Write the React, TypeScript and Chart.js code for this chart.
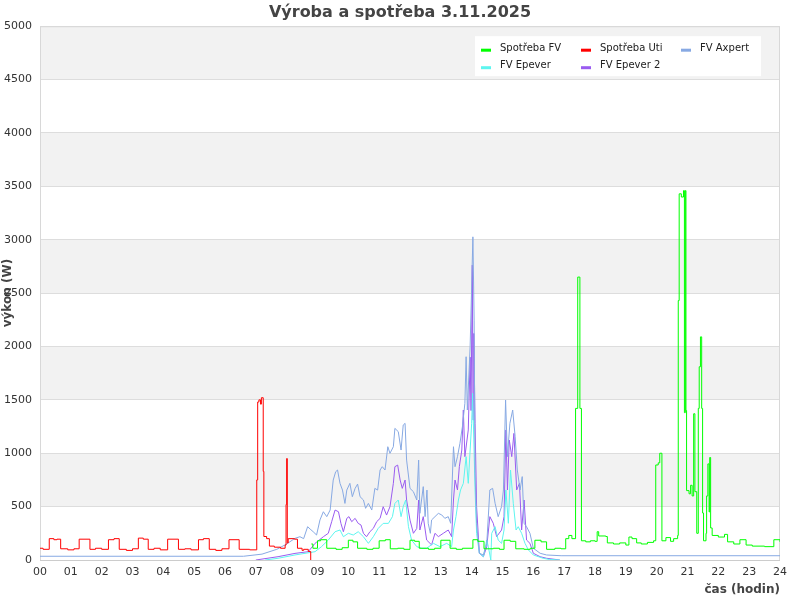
import React, { useEffect, useRef } from "react";
import { Chart, registerables } from "chart.js";

Chart.register(...registerables);

const TITLE = "Výroba a spotřeba 3.11.2025";
const Y_TITLE = "výkon (W)";
const X_TITLE = "čas (hodin)";
const HOUR_TICKS = [0, 1, 2, 3, 4, 5, 6, 7, 8, 9, 10, 11, 12, 13, 14, 15, 16, 17, 18, 19, 20, 21, 22, 23, 24];
const SERIES_NAMES = ["Spotřeba FV", "Spotřeba Uti", "FV Axpert", "FV Epever", "FV Epever 2"];
const SERIES_COLORS = ["#00ff00", "#ff0000", "#87a9e3", "#5ef5ef", "#9a5cf0"];

// Spotřeba Uti (stepped)
const utiT = [0, 0.1, 0.3, 0.45, 0.55, 0.67, 0.9, 1.1, 1.27, 1.62, 1.8, 2.0, 2.22, 2.4, 2.57, 2.8, 3.0, 3.19, 3.35, 3.51, 3.7, 3.9, 4.14, 4.49, 4.7, 4.9, 5.14, 5.3, 5.49, 5.7, 5.9, 6.13, 6.46, 6.8, 7.03, 7.06, 7.1, 7.15, 7.18, 7.24, 7.26, 7.35, 7.44, 7.6, 7.8, 7.95, 7.98, 8.0, 8.02, 8.05, 8.25, 8.35, 8.5, 8.55, 8.7, 8.78];
const utiV = [110, 100, 200, 190, 195, 105, 95, 105, 195, 100, 110, 100, 190, 200, 100, 90, 105, 205, 195, 100, 110, 95, 195, 100, 105, 95, 190, 200, 100, 90, 105, 190, 100, 95, 750, 1480, 1500, 1460, 1520, 830, 220, 200, 130, 120, 110, 140, 520, 950, 160, 200, 195, 110, 90, 100, 80, 0];

// Spotřeba FV (stepped)
const fvT = [8.8, 8.85, 9.0, 9.1, 9.3, 9.6, 9.8, 10.0, 10.15, 10.3, 10.6, 10.8, 11.0, 11.2, 11.36, 11.6, 11.8, 12.0, 12.15, 12.3, 12.6, 12.8, 13.0, 13.3, 13.5, 13.7, 14.04, 14.2, 14.4, 14.7, 14.9, 15.05, 15.25, 15.43, 15.7, 15.9, 16.05, 16.25, 16.43, 16.7, 16.9, 17.05, 17.15, 17.25, 17.37, 17.44, 17.51, 17.56, 17.7, 17.85, 18.0, 18.07, 18.12, 18.35, 18.4, 18.6, 18.8, 19.0, 19.1, 19.2, 19.35, 19.5, 19.7, 19.9, 19.97, 20.05, 20.1, 20.17, 20.3, 20.45, 20.55, 20.68, 20.7, 20.73, 20.8, 20.87, 20.9, 20.93, 20.95, 20.97, 21.05, 21.1, 21.15, 21.2, 21.24, 21.3, 21.35, 21.38, 21.42, 21.46, 21.49, 21.52, 21.6, 21.62, 21.66, 21.7, 21.72, 21.75, 21.8, 22.0, 22.2, 22.3, 22.5, 22.7, 22.9, 23.1, 23.5, 23.8, 24];
const fvV = [150, 110, 180, 190, 110, 100, 115, 185, 170, 110, 100, 110, 180, 190, 105, 110, 100, 185, 175, 110, 100, 110, 185, 110, 100, 110, 190, 175, 105, 110, 100, 185, 175, 105, 100, 110, 185, 170, 100, 110, 105, 200, 230, 200, 1420, 2650, 1420, 180, 170, 180, 175, 265, 225, 220, 160, 150, 160, 140, 215, 200, 160, 150, 165, 180, 890, 910, 1000, 180, 210, 175, 200, 230, 2430, 3430, 3400, 3460, 1380, 3460, 1400, 650, 620, 700, 600, 1370, 640, 250, 1420, 1810, 2090, 1420, 440, 180, 250, 600, 900, 450, 960, 300, 230, 215, 240, 170, 150, 190, 140, 130, 125, 190, 170];

// FV Axpert
const axT = [0, 6.6, 7.2, 7.68, 8.0, 8.27, 8.43, 8.55, 8.68, 8.76, 8.86, 8.97, 9.08, 9.19, 9.3, 9.41, 9.51, 9.59, 9.65, 9.73, 9.81, 9.89, 9.95, 10.05, 10.13, 10.22, 10.3, 10.38, 10.49, 10.56, 10.65, 10.76, 10.86, 10.95, 11.03, 11.1, 11.19, 11.28, 11.35, 11.46, 11.51, 11.62, 11.71, 11.78, 11.84, 11.89, 12.0, 12.11, 12.22, 12.28, 12.32, 12.43, 12.49, 12.55, 12.59, 12.66, 12.7, 12.81, 12.92, 13.03, 13.13, 13.24, 13.32, 13.41, 13.46, 13.54, 13.62, 13.7, 13.78, 13.82, 13.86, 13.95, 14.04, 14.08, 14.11, 14.16, 14.25, 14.38, 14.49, 14.59, 14.68, 14.76, 14.86, 14.97, 15.03, 15.1, 15.16, 15.24, 15.33, 15.41, 15.48, 15.57, 15.64, 15.7, 15.78, 15.89, 16.0, 16.22, 16.43, 16.9, 24];
const axV = [35, 35, 55, 100, 150, 203, 218, 200, 312, 290, 265, 234, 375, 452, 406, 468, 749, 827, 843, 718, 655, 530, 655, 718, 593, 671, 711, 593, 562, 484, 530, 468, 671, 655, 843, 874, 843, 1061, 999, 1061, 1233, 1202, 1030, 1264, 1280, 936, 671, 640, 562, 936, 437, 687, 406, 655, 344, 250, 375, 406, 437, 422, 390, 406, 344, 1061, 874, 968, 1093, 1249, 1467, 1904, 1405, 2000, 3027, 2247, 812, 344, 63, 47, 156, 656, 671, 531, 406, 500, 656, 1498, 968, 1280, 1405, 1155, 843, 656, 781, 344, 312, 250, 110, 63, 47, 40, 40];

// FV Epever
const epT = [7.3, 7.72, 8.27, 8.92, 9.13, 9.35, 9.57, 9.73, 9.84, 10.0, 10.16, 10.32, 10.49, 10.65, 10.81, 10.97, 11.13, 11.3, 11.43, 11.51, 11.62, 11.71, 11.78, 11.86, 11.95, 12.05, 12.22, 12.38, 12.54, 12.76, 12.97, 13.19, 13.35, 13.41, 13.49, 13.57, 13.64, 13.73, 13.82, 13.89, 13.95, 14.0, 14.03, 14.07, 14.11, 14.16, 14.25, 14.38, 14.49, 14.54, 14.62, 14.65, 14.76, 14.86, 14.97, 15.05, 15.11, 15.19, 15.26, 15.35, 15.44, 15.51, 15.62, 15.73, 15.84, 16.0, 16.32, 16.52, 16.86];
const epV = [0, 16, 47, 78, 125, 187, 265, 281, 218, 250, 234, 265, 218, 156, 218, 296, 343, 343, 406, 530, 562, 406, 499, 562, 312, 187, 125, 110, 110, 156, 125, 156, 125, 281, 406, 562, 656, 718, 968, 718, 1030, 1280, 1561, 1124, 656, 250, 63, 31, 187, 125, 0, 250, 312, 187, 156, 281, 656, 344, 843, 531, 281, 312, 250, 156, 94, 47, 16, 5, 0];

// FV Epever 2
const ep2T = [7.0, 7.72, 8.27, 8.7, 8.92, 9.19, 9.35, 9.46, 9.57, 9.68, 9.76, 9.84, 9.95, 10.02, 10.11, 10.22, 10.32, 10.41, 10.49, 10.59, 10.7, 10.81, 10.92, 11.03, 11.13, 11.24, 11.35, 11.46, 11.51, 11.6, 11.68, 11.75, 11.84, 11.89, 12.0, 12.11, 12.22, 12.28, 12.32, 12.43, 12.54, 12.7, 12.81, 12.92, 13.08, 13.24, 13.35, 13.41, 13.46, 13.54, 13.6, 13.68, 13.73, 13.78, 13.89, 13.95, 13.98, 14.02, 14.045, 14.07, 14.11, 14.16, 14.25, 14.38, 14.49, 14.59, 14.7, 14.81, 14.97, 15.05, 15.11, 15.16, 15.22, 15.3, 15.37, 15.46, 15.55, 15.62, 15.7, 15.78, 15.89, 16.0, 16.22, 16.43, 16.86];
const ep2V = [0, 31, 62, 78, 156, 218, 250, 359, 468, 452, 343, 265, 390, 406, 359, 390, 343, 328, 250, 218, 265, 296, 359, 390, 499, 421, 499, 718, 874, 889, 749, 671, 749, 562, 374, 250, 296, 562, 281, 406, 187, 141, 250, 219, 250, 281, 219, 562, 749, 656, 874, 1030, 1405, 968, 1218, 1900, 1400, 2762, 1311, 2122, 1280, 500, 63, 31, 125, 406, 344, 219, 281, 406, 1218, 656, 1124, 968, 1186, 656, 718, 281, 562, 187, 156, 63, 31, 16, 0];

const FONT = "'DejaVu Sans', sans-serif";

const pts = (t: number[], v: number[]) => t.map((x, i) => ({ x, y: v[i] }));

const bgPlugin = {
  id: "bgBands",
  beforeDraw(chart: any) {
    const { ctx, chartArea, scales } = chart;
    const y = scales.y;
    ctx.save();
    ctx.fillStyle = "#ffffff";
    ctx.fillRect(0, 0, chart.width, chart.height);
    for (let v = 0; v < 5000; v += 500) {
      if ((v / 500) % 2 === 1) {
        const top = y.getPixelForValue(v + 500);
        const bot = y.getPixelForValue(v);
        ctx.fillStyle = "#f2f2f2";
        ctx.fillRect(chartArea.left, top, chartArea.right - chartArea.left, bot - top);
      }
    }
    ctx.restore();
  },
  beforeDatasetsDraw(chart: any) {
    const { ctx, chartArea } = chart;
    ctx.save();
    ctx.strokeStyle = "#d8d8d8";
    ctx.lineWidth = 1;
    ctx.strokeRect(chartArea.left + 0.5, chartArea.top + 0.5, chartArea.right - chartArea.left - 1, chartArea.bottom - chartArea.top);
    ctx.strokeStyle = "#cccccc";
    ctx.beginPath();
    ctx.moveTo(chartArea.left, chartArea.bottom + 0.5);
    ctx.lineTo(chartArea.right, chartArea.bottom + 0.5);
    ctx.stroke();
    ctx.restore();
  },
};

const legendPlugin = {
  id: "boxLegend",
  afterDraw(chart: any) {
    const { ctx, chartArea } = chart;
    const w = 286;
    const h = 40;
    const x0 = chartArea.right - 19 - w;
    const y0 = chartArea.top + 10;
    ctx.save();
    ctx.fillStyle = "#ffffff";
    ctx.fillRect(x0, y0, w, h);
    ctx.font = `10px ${FONT}`;
    ctx.textBaseline = "middle";
    ctx.textAlign = "left";
    SERIES_NAMES.forEach((name, i) => {
      const col = i % 3;
      const row = Math.floor(i / 3);
      const mx = x0 + 6 + col * 100;
      const ty = y0 + 12 + row * 17.5;
      ctx.strokeStyle = SERIES_COLORS[i];
      ctx.lineWidth = 3;
      ctx.beginPath();
      ctx.moveTo(mx, ty + 2);
      ctx.lineTo(mx + 10, ty + 2);
      ctx.stroke();
      ctx.fillStyle = "#222222";
      ctx.fillText(name, mx + 19, ty);
    });
    ctx.restore();
  },
};

export default function App() {
  const ref = useRef<HTMLCanvasElement | null>(null);
  useEffect(() => {
    document.body.style.margin = "0";
    if (!ref.current) return;
    const seriesT = [fvT, utiT, axT, epT, ep2T];
    const seriesV = [fvV, utiV, axV, epV, ep2V];
    const stepped = [true, true, false, false, false];
    const chart = new Chart(ref.current, {
      type: "line",
      data: {
        datasets: SERIES_NAMES.map((name, i) => ({
          label: name,
          data: pts(seriesT[i], seriesV[i]),
          borderColor: SERIES_COLORS[i],
          backgroundColor: SERIES_COLORS[i],
          borderWidth: 1,
          pointRadius: 0,
          tension: 0,
          stepped: stepped[i],
          fill: false,
        })),
      },
      options: {
        animation: false,
        responsive: false,
        devicePixelRatio: 1,
        layout: { padding: 0 },
        plugins: {
          legend: { display: false },
          tooltip: { enabled: false },
          title: {
            display: true,
            text: TITLE,
            color: "#444444",
            font: { family: FONT, size: 16, weight: "bold" },
            padding: { top: 3, bottom: 4 },
          },
        },
        scales: {
          x: {
            type: "linear",
            min: 0,
            max: 24,
            afterBuildTicks: (s: any) => {
              s.ticks = HOUR_TICKS.map((v) => ({ value: v }));
            },
            ticks: {
              autoSkip: false,
              maxRotation: 0,
              padding: 6,
              color: "#333333",
              font: { family: FONT, size: 11 },
              callback: (v: any) => String(v).padStart(2, "0"),
            },
            grid: { display: false, drawTicks: false },
            border: { display: false },
            title: {
              display: true,
              text: X_TITLE,
              align: "end",
              color: "#444444",
              font: { family: FONT, size: 12, weight: "bold" },
              padding: { top: 0, bottom: 3 },
            },
            afterFit: (s: any) => {
              s.height = 40;
            },
          },
          y: {
            min: 0,
            max: 5000,
            ticks: {
              stepSize: 500,
              padding: 8,
              color: "#333333",
              font: { family: FONT, size: 11 },
              callback: (v: any) => String(v),
            },
            grid: { color: "#dddddd", drawTicks: false },
            border: { display: false },
            title: {
              display: true,
              text: Y_TITLE,
              color: "#444444",
              font: { family: FONT, size: 12, weight: "bold" },
              padding: { top: 1, bottom: 0 },
            },
            afterFit: (s: any) => {
              s.width = 40;
            },
          },
          yRight: {
            type: "linear",
            position: "right",
            display: true,
            min: 0,
            max: 1,
            ticks: { display: false },
            grid: { display: false, drawTicks: false },
            border: { display: false },
            afterFit: (s: any) => {
              s.width = 20;
            },
          },
        },
      } as any,
      plugins: [bgPlugin, legendPlugin],
    });
    return () => chart.destroy();
  }, []);
  return <canvas ref={ref} width={800} height={600} style={{ display: "block", width: 800, height: 600 }} />;
}
